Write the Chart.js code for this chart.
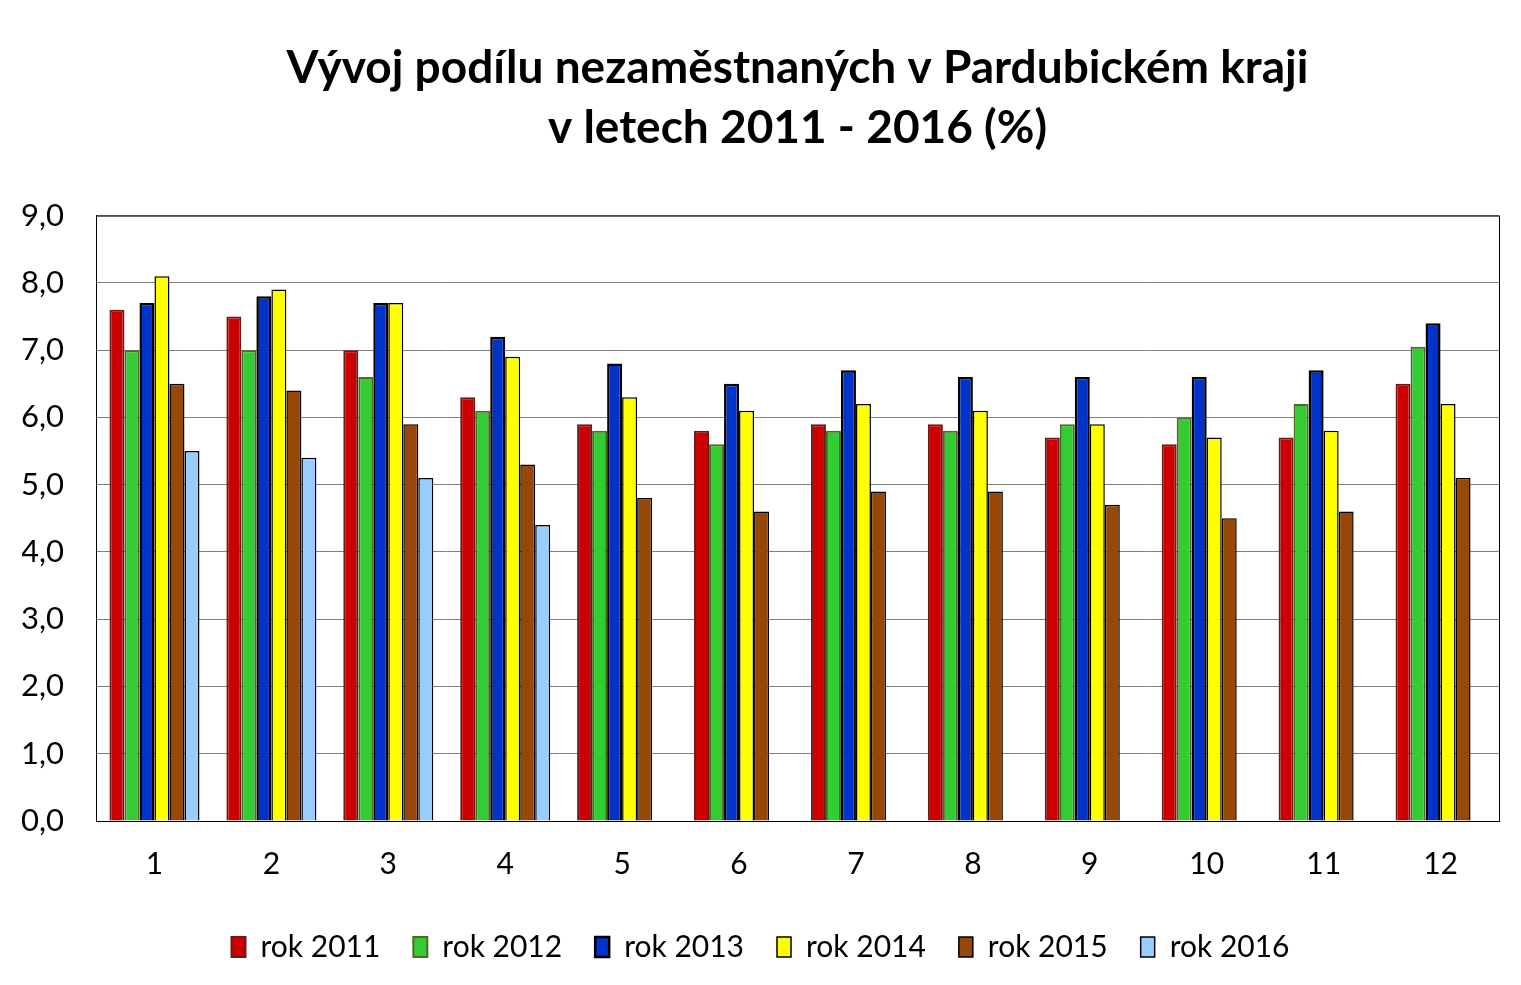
<!DOCTYPE html>
<html>
<head>
<meta charset="utf-8">
<script src="https://cdn.jsdelivr.net/npm/chart.js@4"></script>
<style>
  html, body { margin: 0; padding: 0; background: #fff; }
  #wrap { width: 1521px; height: 985px; }
</style>
</head>
<body>
<div id="wrap"><canvas id="chart"></canvas></div>
<script>
// months
const months = ['1', '2', '3', '4', '5', '6', '7', '8', '9', '10', '11', '12']

// podil nezamestnanych (%) per year
const rok2011 = [7.6, 7.5, 7.0, 6.3, 5.9, 5.8, 5.9, 5.9, 5.7, 5.6, 5.7, 6.5]
const rok2012 = [7.0, 7.0, 6.6, 6.1, 5.8, 5.6, 5.8, 5.8, 5.9, 6.0, 6.2, 7.05]
const rok2013 = [7.7, 7.8, 7.7, 7.2, 6.8, 6.5, 6.7, 6.6, 6.6, 6.6, 6.7, 7.4]
const rok2014 = [8.1, 7.9, 7.7, 6.9, 6.3, 6.1, 6.2, 6.1, 5.9, 5.7, 5.8, 6.2]
const rok2015 = [6.5, 6.4, 5.9, 5.3, 4.8, 4.6, 4.9, 4.9, 4.7, 4.5, 4.6, 5.1]
const rok2016 = [5.5, 5.4, 5.1, 4.4, null, null, null, null, null, null, null, null]

const yTicks = [0, 1, 2, 3, 4, 5, 6, 7, 8, 9]

const FONT = 'Lato, "Open Sans", sans-serif'

Chart.defaults.color = '#000'
Chart.defaults.font.family = FONT

const series = [
  { label: 'rok 2011', data: rok2011, backgroundColor: '#cc0000', borderColor: '#6b1a1a', borderWidth: 2 },
  { label: 'rok 2012', data: rok2012, backgroundColor: '#33cc33', borderColor: '#4d6b26', borderWidth: 2 },
  { label: 'rok 2013', data: rok2013, backgroundColor: '#0033cc', borderColor: '#000', borderWidth: 2.5 },
  { label: 'rok 2014', data: rok2014, backgroundColor: '#ffff00', borderColor: '#000', borderWidth: 1.5 },
  { label: 'rok 2015', data: rok2015, backgroundColor: '#974706', borderColor: '#000', borderWidth: 1.5 },
  { label: 'rok 2016', data: rok2016, backgroundColor: '#99ccff', borderColor: '#000', borderWidth: 1.5 }
]

// plot area frame
const frame = {
  id: 'frame',
  afterDraw(chart) {
    const { ctx, chartArea: a } = chart
    ctx.save()
    ctx.strokeStyle = '#000'
    ctx.lineWidth = 1
    ctx.strokeRect(a.left + 0.5, a.top + 0.5, a.right - a.left, a.bottom - a.top)
    ctx.restore()
  }
}

new Chart(document.getElementById('chart'), {
  type: 'bar',
  data: {
    labels: months,
    datasets: series.map(s => Object.assign({ borderSkipped: 'bottom', categoryPercentage: 0.77, barPercentage: 1.0 }, s))
  },
  options: {
    responsive: true,
    maintainAspectRatio: false,
    animation: false,
    layout: { padding: { left: 22, right: 22, top: 0, bottom: 13 } },
    plugins: {
      title: {
        display: true,
        fullSize: false,
        text: ['Vývoj podílu nezaměstnaných v Pardubickém kraji', 'v letech 2011 - 2016 (%)'],
        font: { family: FONT, size: 46, weight: 'bold', lineHeight: 1.3 },
        color: '#000',
        padding: { top: 38, bottom: 58 }
      },
      legend: {
        position: 'bottom',
        labels: {
          font: { family: FONT, size: 30 },
          color: '#000',
          boxWidth: 14,
          boxHeight: 20,
          padding: 33
        }
      },
      tooltip: { enabled: false }
    },
    scales: {
      x: {
        grid: { display: false },
        border: { color: '#000' },
        ticks: { font: { family: FONT, size: 30 }, color: '#000', padding: 17 }
      },
      y: {
        min: 0,
        max: 9,
        afterBuildTicks: axis => { axis.ticks = yTicks.map(v => ({ value: v })) },
        afterFit: axis => { axis.width = 74 },
        grid: { color: '#808080', lineWidth: 1, drawTicks: false },
        border: { color: '#000' },
        ticks: {
          font: { family: FONT, size: 31 },
          color: '#000',
          padding: 32,
          callback: v => v.toFixed(1).replace('.', ',')
        }
      }
    }
  },
  plugins: [frame]
})
</script>
</body>
</html>
